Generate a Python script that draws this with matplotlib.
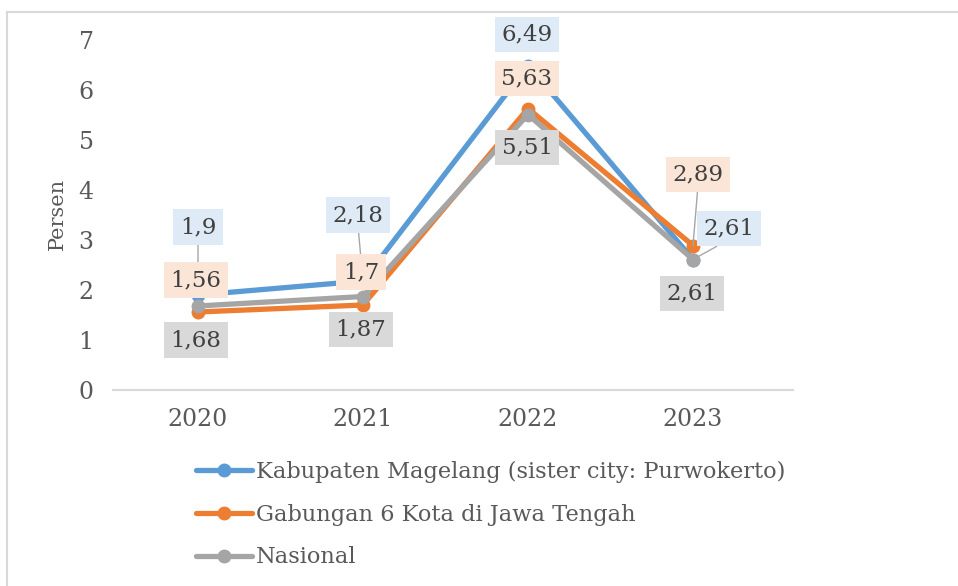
import matplotlib.pyplot as plt
from matplotlib.lines import Line2D

plt.rcParams['font.family'] = ['DejaVu Serif']

years = ['2020', '2021', '2022', '2023']
magelang = [1.9, 2.18, 6.49, 2.61]
gabungan = [1.56, 1.7, 5.63, 2.89]
nasional = [1.68, 1.87, 5.51, 2.61]

names = ['Kabupaten Magelang (sister city: Purwokerto)',
         'Gabungan 6 Kota di Jawa Tengah',
         'Nasional']
line_colors = ['#5B9BD5', '#ED7D31', '#A5A5A5']
box_colors = ['#DEEBF7', '#FBE5D6', '#D9D9D9']

# label box offsets from each point, in pixels (dx, dy)
label_offsets = [
    [(0, 68), (-5, 66), (-1, 31), (36, 31)],
    [(-2, 32), (-2, 33), (-1, 30), (5, 71)],
    [(-2, -34), (-2, -33), (-1, -33), (-1, -34)],
]
# which labels get a leader line
leaders = [
    [True, True, False, True],
    [False, False, False, True],
    [False, False, False, False],
]

W, H = 958, 586
fig = plt.figure(figsize=(W / 100, H / 100), dpi=100)
ax = fig.add_axes([113 / W, 1 - 390 / H, 680 / W, 350 / H])

x = list(range(len(years)))
series = [magelang, gabungan, nasional]
for i, vals in enumerate(series):
    ax.plot(x, vals, color=line_colors[i], lw=3.8, marker='o', ms=9,
            solid_capstyle='round', label=names[i], zorder=2 + i)

for i, vals in enumerate(series):
    for j, v in enumerate(vals):
        dx, dy = label_offsets[i][j]
        arrow = None
        if leaders[i][j]:
            arrow = dict(arrowstyle='-', color='#A6A6A6', lw=1.0,
                         shrinkA=0, shrinkB=0, relpos=(0.5, 0.0))
        ax.annotate(f'{v:g}'.replace('.', ','), xy=(j, v), xytext=(dx, dy),
                    textcoords='offset pixels', ha='center', va='center',
                    fontsize=16.5, color='#404040',
                    bbox=dict(boxstyle='square,pad=0.3', fc=box_colors[i], ec='none'),
                    arrowprops=arrow, zorder=10, annotation_clip=False)

ax.set_xlim(-85 / 165, 3 + 100 / 165)
ax.set_ylim(0, 7)
ax.set_xticks(x)
ax.set_xticklabels(years)
ax.set_yticks(range(0, 8))
ax.tick_params(length=0, labelsize=17, labelcolor='#595959')
ax.tick_params(axis='y', pad=14)
ax.tick_params(axis='x', pad=13)
for s in ['top', 'right', 'left']:
    ax.spines[s].set_visible(False)
ax.spines['bottom'].set_color('#D9D9D9')
ax.spines['bottom'].set_linewidth(1.5)

fig.text(57 / W, 1 - 214 / H, 'Persen', rotation=90, ha='center', va='center',
         fontsize=15, color='#595959')

fig.legend(loc='upper left', bbox_to_anchor=(196 / W, 1 - 461 / H), frameon=False,
           fontsize=16.2, handlelength=2.5, handletextpad=0.15, labelspacing=0.92,
           borderpad=0, borderaxespad=0, labelcolor='#595959')

# outer chart frame
fig.add_artist(Line2D([7 / W, 7 / W], [0, 1 - 12 / H], color='#D9D9D9', lw=1.5))
fig.add_artist(Line2D([7 / W, 1], [1 - 12 / H, 1 - 12 / H], color='#D9D9D9', lw=1.5))

fig.savefig('out.png', dpi=100)
